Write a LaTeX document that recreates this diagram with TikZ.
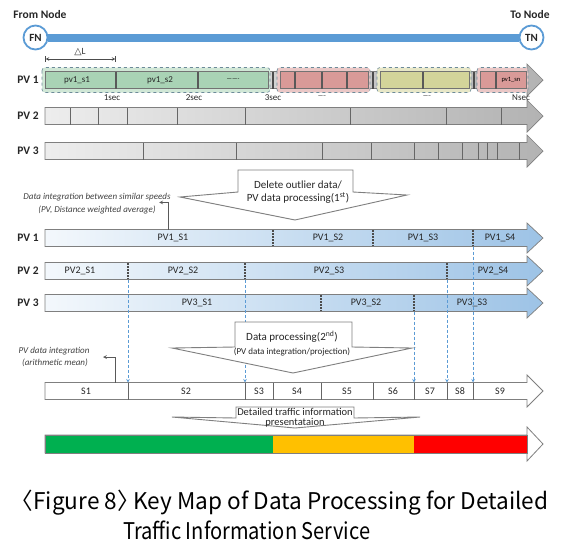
\documentclass[tikz,border=0pt]{standalone}
\usepackage{fontspec}
\usepackage{graphicx}
\setmainfont{Carlito}
\newfontfamily\symfont{DejaVu Sans}
\newfontfamily\capfont{Noto Sans CJK KR}

\definecolor{nodeblue}{HTML}{5B9BD5}
\definecolor{edgegray}{HTML}{7F7F7F}
\definecolor{cellgreen}{HTML}{A9D3B5}
\definecolor{cellred}{HTML}{D99A98}
\definecolor{cellyellow}{HTML}{D3D49A}
\definecolor{barblue}{HTML}{9DC3E6}
\definecolor{bargreen}{HTML}{00B050}
\definecolor{baryellow}{HTML}{FFC000}
\definecolor{barred}{HTML}{FF0000}

\begin{document}
\begin{tikzpicture}[x=1pt, y=-1pt, >=stealth,
  endnode/.style={circle, draw=nodeblue, line width=1.8pt, fill=white, minimum size=24pt, inner sep=0pt, font=\fontsize{11}{11}\selectfont\bfseries, text=black!85},
  rowlabel/.style={font=\fontsize{11.5}{11.5}\selectfont\bfseries, text=black!85},
  graybar/.style={draw=edgegray, line width=0.7pt, left color=black!7, right color=black!30},
  bluebar/.style={draw=edgegray, line width=0.7pt, left color=barblue!12, right color=barblue},
  cellline/.style={draw=black!60, line width=1pt},
  pvgroup/.style={dashed, rounded corners=3pt, draw=black!40!cyan!50!gray, line width=0.6pt},
  sectick/.style={black!70, line width=1.8pt, dash pattern=on 1.6pt off 1.4pt},
  seglabel/.style={font=\fontsize{10}{10}\selectfont, text=black!85},
  smalllabel/.style={font=\fontsize{9}{9}\selectfont, text=black!85},
  link/.style={->, nodeblue, densely dashed, line width=0.6pt},
  callout/.style={draw=edgegray, fill=white, line width=0.9pt},
  calltext/.style={font=\fontsize{11}{13.5}\selectfont, align=center, text=black!85},
  note/.style={font=\fontsize{9}{9}\selectfont\itshape, text=black!75},
  elbow/.style={->, black!65, line width=0.7pt}]

\useasboundingbox (0,0) rectangle (568,550);

% From node and to node
\node[endnode] (fn) at (35.5,37.5) {FN};
\node[endnode] (tn) at (531.5,37.5) {TN};
\draw[nodeblue, line width=8pt] (fn) -- (tn);
\node[rowlabel] (fnlab) at (40,15) {From Node};
\node[rowlabel] (tnlab) at (530,15) {To Node};

% Delta L
\coordinate (dla) at (45,59);
\coordinate (dlb) at (116,59);
\draw[|<->|, black!70, line width=0.6pt] (dla) -- (dlb);
\node[font=\fontsize{9.5}{9.5}\selectfont, text=black!80] (dl) at (80,52) {{\symfont △}L};

% PV rows before processing
\foreach \c/\n in {80/1,116/2,151/3}{
  \node[rowlabel] (pv\n) at (28,\c) {PV \n};
  \draw[graybar] (45,\c-8.5) -- (527,\c-8.5) -- (527,\c-16) -- (543,\c) -- (527,\c+16) -- (527,\c+8.5) -- (45,\c+8.5) -- cycle;
}

% PV 2 and PV 3 cells
\foreach \x in {70,98,127,177,245,350,446,501}
  \draw[cellline] (\x,107.5) -- (\x,124.5);
\foreach \x in {143,236,322,371,414,438,462,478,487,497,519}
  \draw[cellline] (\x,142.5) -- (\x,159.5);

% PV 1 gaps between groups
\foreach \x in {273,373,474}
  \draw[black!70, line width=2pt] (\x,71.5) -- (\x,88.5);

% PV 1 groups
\foreach \a/\b/\col in {42/270/cellgreen, 277/370/cellred, 377/471/cellyellow, 477/528/cellred}{
  \draw[pvgroup, fill=\col!55] (\a,67.5) rectangle (\b,92.5);
  \draw[black!55, fill=\col] (\a+3,71.5) rectangle (\b-2,88.5);
}
\foreach \x in {116,198,295,322,347,423,496}
  \draw[black!65, line width=1.4pt] (\x,71.5) -- (\x,88.5);

\node[smalllabel] (c1) at (77,80) {pv1\_s1};
\node[smalllabel] (c2) at (160,80) {pv1\_s2};
\node[font=\fontsize{6}{6}\selectfont] (c3) at (233,80) {-------};
\node[font=\fontsize{6.5}{6.5}\selectfont, inner sep=1pt] (cn) at (511,80) {pv1\_sn};

\node[smalllabel] (t1) at (112,98) {1sec};
\node[smalllabel] (t2) at (194,98) {2sec};
\node[smalllabel] (t3) at (273,98) {3sec};
\node[font=\fontsize{6}{6}\selectfont] (t4) at (322,97) {-----};
\node[font=\fontsize{6}{6}\selectfont] (t5) at (427,97) {-----};
\node[smalllabel] (tn) at (521,98) {Nsec};

% first processing step
\node[note] (note1a) at (97,197) {Data integration between similar speeds};
\node[note] (note1b) at (97,210) {(PV, Distance weighted average)};
\draw[callout] (238,170) -- (353,170) -- (353,192) -- (407,195) -- (295,220) -- (180,197) -- (238,192) -- cycle;
\node[calltext] (step1) at (298,192) {Delete outlier data/\\PV data processing(1\textsuperscript{st})};

% PV rows after processing
\foreach \c/\n in {238/1,271/2,303/3}{
  \node[rowlabel] (pvb\n) at (28,\c) {PV \n};
  \draw[bluebar] (45,\c-8.5) -- (527,\c-8.5) -- (527,\c-15) -- (543,\c) -- (527,\c+15) -- (527,\c+8.5) -- (45,\c+8.5) -- cycle;
}
\foreach \x/\c in {273/238,373/238,473/238,128/271,245/271,447/271,321/303,414/303}{
  \draw[sectick] (\x,\c-8) -- (\x,\c+8);
  \coordinate (d\x) at (\x,\c+8.5);
}
\foreach \l/\x/\c in {PV1\_S1/173/238, PV1\_S2/328/238, PV1\_S3/423/238, PV1\_S4/500/238,
                      PV2\_S1/80/271, PV2\_S2/183/271, PV2\_S3/329/271, PV2\_S4/493/271,
                      PV3\_S1/197/303, PV3\_S2/366/303, PV3\_S3/472/303}
  \node[seglabel] (lab\x-\c) at (\x,\c) {\l};

\coordinate (b1top) at (168,229.5);
\draw[elbow] (b1top) |- (note1b.north east);

% integrated sections
\draw[draw=edgegray, fill=white, line width=0.8pt] (45,382.5) -- (527,382.5) -- (527,375) -- (543,391) -- (527,407) -- (527,399.5) -- (45,399.5) -- cycle;
\foreach \x in {128,245,273,321,373,414,447,473}{
  \draw[cellline] (\x,382.5) -- (\x,399.5);
  \coordinate (s\x) at (\x,382.5);
}
\foreach \l/\x in {S1/86, S2/186, S3/259, S4/297, S5/347, S6/393, S7/430, S8/460, S9/500}
  \node[seglabel] (\l) at (\x,391) {\l};

\foreach \x in {128,245,414,447,473}
  \draw[link] (d\x) -- (s\x);

% second processing step
\node[note] (note2a) at (54,351) {PV data integration};
\node[note] (note2b) at (55,363) {(arithmetic mean)};
\coordinate (s1top) at (115,382.5);
\coordinate (n2tip) at (103,357);
\draw[elbow] (s1top) |- (n2tip);
\draw[callout] (235,322) -- (352,322) -- (352,347) -- (412,348) -- (293,373) -- (172,348) -- (235,347) -- cycle;
\node[calltext] (step2a) at (292,337) {Data processing(2\textsuperscript{nd})};
\node[calltext, font=\fontsize{9}{9}\selectfont] (step2b) at (292,352) {(PV data integration/projection)};

% presentation
\draw[callout] (236,407) -- (354,407) -- (354,418) -- (420,417) -- (295,428) -- (172,417) -- (236,418) -- cycle;
\node[calltext, font=\fontsize{10.5}{10}\selectfont] (step3) at (295,418) {Detailed traffic information\\presentataion};

\draw[draw=edgegray, fill=white, line width=0.8pt] (45,435) -- (527,435) -- (527,427) -- (543,444) -- (527,461) -- (527,453) -- (45,453) -- cycle;
\fill[bargreen] (45,435) rectangle (273,453);
\fill[baryellow] (273,435) rectangle (414,453);
\fill[barred] (414,435) rectangle (527,453);
\draw[edgegray, line width=0.8pt] (45,435) rectangle (527,453);

% caption
\node[anchor=base west, inner sep=0pt] (cap1) at (22,509) {\resizebox{526pt}{\height}{\capfont\fontsize{23}{23}\selectfont\hspace{-0.5em}〈Figure 8〉\hspace{-0.5em} Key Map of Data Processing for Detailed}};
\node[anchor=base west, inner sep=0pt] (cap2) at (123,539) {\resizebox{247pt}{\height}{\capfont\fontsize{23}{23}\selectfont Traffic Information Service}};

\end{tikzpicture}
\end{document}
